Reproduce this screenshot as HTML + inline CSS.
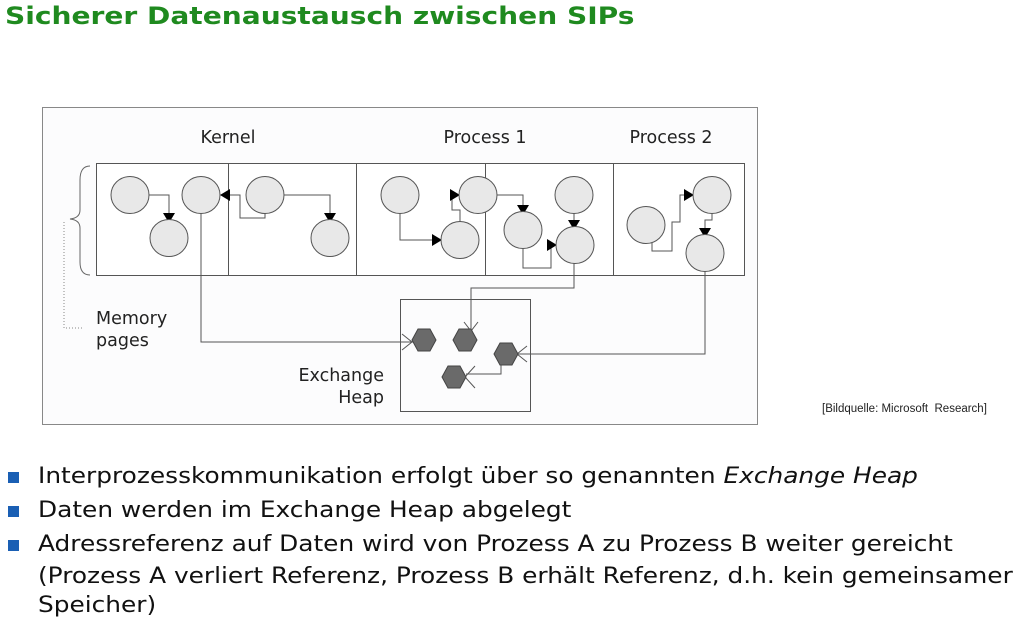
<!DOCTYPE html>
<html><head><meta charset="utf-8"><style>
body{margin:0;width:1020px;height:625px;background:#fff;position:relative;overflow:hidden;font-family:"DejaVu Sans","Liberation Sans",sans-serif}
.t{position:absolute;left:5px;top:2px;font-size:24px;font-weight:bold;color:#1f8a1f;white-space:nowrap;transform:scaleX(1.17);transform-origin:0 0}
.l{position:absolute;left:38px;font-size:22px;color:#111;white-space:nowrap;transform:scaleX(1.128);transform-origin:0 0}
.b{position:absolute;left:8px;width:11px;height:11px;background:#1a5fb4}
.src{position:absolute;left:822px;top:403px;font-size:11.5px;font-family:"Liberation Sans",sans-serif;color:#222;white-space:nowrap}
</style></head><body>
<div class="t">Sicherer Datenaustausch zwischen SIPs</div>
<svg width="1020" height="625" style="position:absolute;left:0;top:0" font-family="DejaVu Sans, sans-serif">
<defs>
<marker id="a" markerWidth="10" markerHeight="12" refX="9" refY="6" orient="auto" markerUnits="userSpaceOnUse"><path d="M0,0 L10,6 L0,12Z" fill="#000"/></marker>
</defs>
<rect x="42.5" y="107.5" width="715" height="317" fill="#fcfcfd" stroke="#888"/>
<text x="228" y="143" font-size="17.5" text-anchor="middle" fill="#222">Kernel</text>
<text x="485" y="143" font-size="17.5" text-anchor="middle" fill="#222">Process 1</text>
<text x="671" y="143" font-size="17.5" text-anchor="middle" fill="#222">Process 2</text>
<rect x="96.5" y="163.5" width="648" height="112" fill="#fff" stroke="#555"/>
<g stroke="#555"><line x1="228.5" y1="163" x2="228.5" y2="275"/><line x1="356.5" y1="163" x2="356.5" y2="275"/><line x1="485.5" y1="163" x2="485.5" y2="275"/><line x1="613.5" y1="163" x2="613.5" y2="275"/></g>
<path d="M90,166 Q80,166 80,180 L80,210 Q80,218 70,219 Q80,220 80,228 L80,262 Q80,275 90,275" fill="none" stroke="#666"/>
<path d="M64,222 L64,328 L84,328" fill="none" stroke="#888" stroke-dasharray="1,2"/>
<g fill="none" stroke="#555">
<path d="M149,195 L169,195 L169,222" marker-end="url(#a)"/>
<path d="M265,211 L265,218 L240,218 L240,195 L221,195" marker-end="url(#a)"/>
<path d="M284,195 L330,195 L330,222" marker-end="url(#a)"/>
<path d="M400,211 L400,240 L441,240" marker-end="url(#a)"/>
<path d="M460,224 L460,210 L452,210 L452,195 L459,195" marker-end="url(#a)"/>
<path d="M497,195 L523,195 L523,214" marker-end="url(#a)"/>
<path d="M574,211 L574,229" marker-end="url(#a)"/>
<path d="M523,246 L523,268 L551,268 L551,245 L556,245" marker-end="url(#a)"/>
<path d="M652,241 L652,251 L672,251 L672,222 L680,222 L680,195 L693,195" marker-end="url(#a)"/>
<path d="M712,211 L712,220 L705,220 L705,237" marker-end="url(#a)"/>
<path d="M201,211 L201,342 L412,342"/>
<path d="M574,261 L574,288 L471,288 L471,330"/>
<path d="M705,269 L705,354 L517,354"/>
<path d="M501,364 L501,374 L466,374"/>
<path d="M402,334 L412,342 L402,350 M412,342 L420,342"/>
<path d="M464,322 L471,331 L478,322"/>
<path d="M527,346 L517,354 L527,362"/>
<path d="M475,366 L465,377 L475,388"/>
</g>
<g fill="#e8e8e8" stroke="#555">
<ellipse cx="130" cy="195" rx="19" ry="18.5"/><ellipse cx="201" cy="195" rx="19" ry="18.5"/><ellipse cx="265" cy="195" rx="19" ry="18.5"/>
<ellipse cx="169" cy="238" rx="19" ry="18.5"/><ellipse cx="330" cy="238" rx="19" ry="18.5"/>
<ellipse cx="400" cy="195" rx="19" ry="18.5"/><ellipse cx="478" cy="195" rx="19" ry="18.5"/><ellipse cx="460" cy="240" rx="19" ry="18.5"/>
<ellipse cx="574" cy="195" rx="19" ry="18.5"/><ellipse cx="523" cy="230" rx="19" ry="18.5"/><ellipse cx="575" cy="245" rx="19" ry="18.5"/>
<ellipse cx="646" cy="225" rx="19" ry="18.5"/><ellipse cx="712" cy="195" rx="19" ry="18.5"/><ellipse cx="705" cy="253" rx="19" ry="18.5"/>
</g>
<rect x="400.5" y="299.5" width="130" height="112" fill="none" stroke="#555"/>
<g fill="#6a6a6a" stroke="#444">
<polygon points="412,340 418,329 430,329 436,340 430,351 418,351"/>
<polygon points="453,340 459,329 471,329 477,340 471,351 459,351"/>
<polygon points="494,354 500,343 512,343 518,354 512,365 500,365"/>
<polygon points="442,377 448,366 460,366 466,377 460,388 448,388"/>
</g>
<text x="96" y="324" font-size="17.5" fill="#222">Memory</text>
<text x="96" y="346" font-size="17.5" fill="#222">pages</text>
<text x="384" y="381" font-size="17.5" text-anchor="end" fill="#222">Exchange</text>
<text x="384" y="403" font-size="17.5" text-anchor="end" fill="#222">Heap</text>
</svg>
<div class="src">[Bildquelle: Microsoft&nbsp; Research]</div>
<div class="b" style="top:472px"></div><div class="l" style="top:464px">Interprozesskommunikation erfolgt über so genannten <i>Exchange Heap</i></div>
<div class="b" style="top:506px"></div><div class="l" style="top:498px">Daten werden im Exchange Heap abgelegt</div>
<div class="b" style="top:540px"></div><div class="l" style="top:532px">Adressreferenz auf Daten wird von Prozess A zu Prozess B weiter gereicht</div>
<div class="l" style="top:564px">(Prozess A verliert Referenz, Prozess B erhält Referenz, d.h. kein gemeinsamer</div>
<div class="l" style="top:593px">Speicher)</div>
</body></html>
